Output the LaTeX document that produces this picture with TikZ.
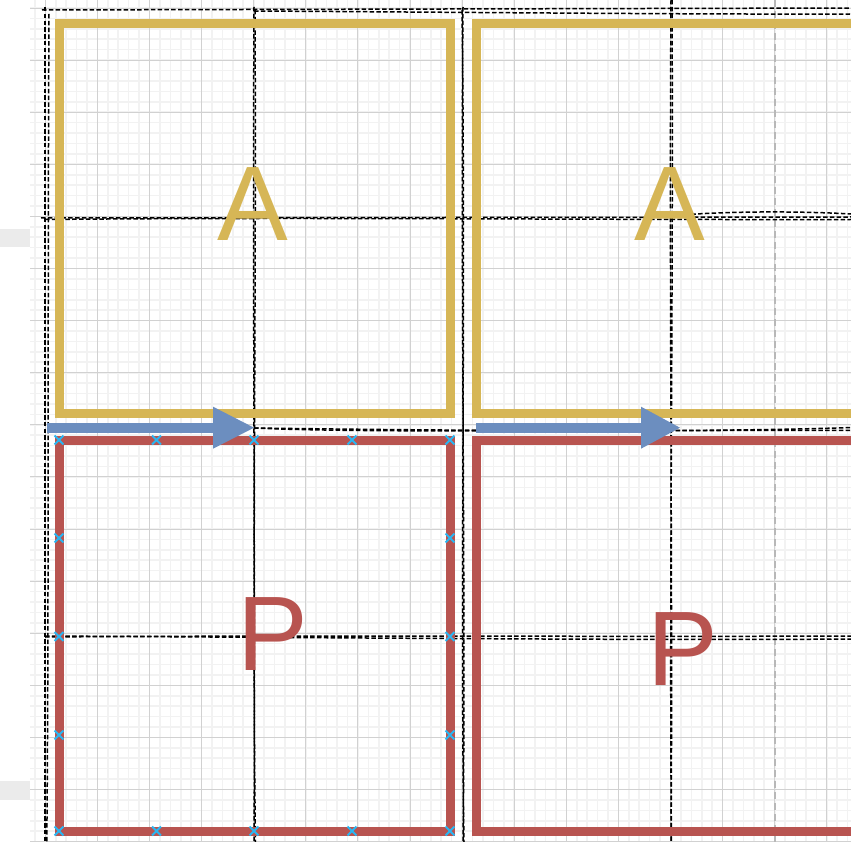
\documentclass[tikz,border=0pt]{standalone}
\usepackage{fontspec}
\setmainfont{Liberation Sans}
\usetikzlibrary{shapes.misc}
\definecolor{ayellow}{HTML}{D6B656}
\definecolor{pred}{HTML}{B85450}
\definecolor{ablue}{HTML}{6C8EBF}
\definecolor{xblue}{HTML}{29B6F2}
\begin{document}
\begin{tikzpicture}[x=1pt,y=-1pt,
  minorgrid/.style={line width=1.6pt, color=black!5},
  majorgrid/.style={line width=0.9pt, color=black!18},
  sk/.style={black, line width=1.5pt, dash pattern=on 4.5pt off 2.3pt},
  guide/.style={black!28, line width=1.3pt, dash pattern=on 7pt off 4pt},
  abox/.style={rectangle, draw=ayellow, line width=9pt, line join=miter, minimum width=391pt, minimum height=389pt, inner sep=0pt},
  pbox/.style={rectangle, draw=pred, line width=9pt, line join=miter, minimum width=391pt, minimum height=391pt, inner sep=0pt},
  atext/.style={font=\fontsize{106}{106}\selectfont, text=ayellow, inner sep=0pt, anchor=base},
  ptext/.style={font=\fontsize{106}{106}\selectfont, text=pred, inner sep=0pt, anchor=base},
  shaft/.style={draw=ablue, line width=10pt, line cap=butt},
  headfill/.style={fill=ablue},
  xmark/.style={cross out, draw=xblue, line width=1.8pt, minimum size=7pt, inner sep=0pt}
]
\path[use as bounding box] (0,0) rectangle (851,842);
\fill[white] (0,0) rectangle (851,842);
% side bars
\fill[black!8] (0,229) rectangle (30,247);
\fill[black!8] (0,781) rectangle (30,800);
% grid
\begin{scope}
\clip (30,0) rectangle (851,842);
\foreach \i in {-1,...,78} \draw[minorgrid] ({45.3+\i*10.42},0) -- ({45.3+\i*10.42},842);
\foreach \i in {-1,...,81} \draw[minorgrid] (30,{8+\i*10.42}) -- (851,{8+\i*10.42});
\foreach \i in {0,...,16} \draw[majorgrid] ({45.3+\i*52.1},0) -- ({45.3+\i*52.1},842);
\foreach \i in {0,...,16} \draw[majorgrid] (30,{8+\i*52.1}) -- (851,{8+\i*52.1});
\end{scope}
% light guide
\draw[guide] (775,0) -- (775,842);
% sketchy dashed guides
\draw[sk] (42,10) -- (851,8);
\draw[sk] (254,11) .. controls (500,12.5) and (700,14.5) .. (851,14);
\draw[sk] (45,7) -- (45,842);
\draw[sk] (49,14) .. controls (47.5,300) and (49,600) .. (46.8,842);
\draw[sk] (254,7) .. controls (252.5,300) and (255.5,600) .. (254,842);
\draw[sk] (255,10) .. controls (256.5,300) and (252,600) .. (255.5,842);
\draw[sk] (463,7) .. controls (460.5,300) and (466,600) .. (463,842);
\draw[sk] (462,10) .. controls (466,300) and (460,600) .. (464,842);
\draw[sk] (671,0) .. controls (669,300) and (673,600) .. (671,842);
\draw[sk] (672,0) .. controls (673.5,300) and (669,600) .. (671.5,842);
\draw[sk] (41,218) -- (851,217);
\draw[sk] (45,219.5) .. controls (300,217) and (600,220) .. (851,219.5);
\draw[sk] (671,216) .. controls (720,211) and (800,211) .. (851,214);
\draw[sk] (254,428) .. controls (360,433) and (600,430) .. (851,430.5);
\draw[sk] (254,428) .. controls (400,430) and (700,433) .. (851,427.5);
\draw[sk] (45,637) .. controls (300,635) and (600,637) .. (851,636);
\draw[sk] (45,636) .. controls (400,638) and (650,640.5) .. (851,639);
% boxes
\node[abox] (A1) at (254.5,218.5) {};
\node[abox] (A2) at (671.5,218.5) {};
\node[pbox] (P1) at (254.5,635.5) {};
\node[pbox] (P2) at (671.5,635.5) {};
% labels
\node[atext] (la1) at (253,240.7) {A};
\node[atext] (la2) at (670,240.7) {A};
\node[ptext] (lp1) at (272.8,670.7) {P};
\node[ptext] (lp2) at (682.4,685) {P};
% arrows
\coordinate (s1) at (47,427.7);
\coordinate (b1) at (213,427.7);
\coordinate (t1) at (254,427.7);
\coordinate (s2) at (476,427.7);
\coordinate (b2) at (641,427.7);
\coordinate (t2) at (680,427.7);
\draw[shaft] (s1) -- ([xshift=2pt]b1);
\fill[headfill] (t1) -- ([yshift=-21pt]b1) -- ([yshift=21pt]b1) -- cycle;
\draw[shaft] (s2) -- ([xshift=2pt]b2);
\fill[headfill] (t2) -- ([yshift=-21pt]b2) -- ([yshift=21pt]b2) -- cycle;
% connection markers
\foreach \x [count=\i] in {59,156.5,254,352,450} {
  \node[xmark] (xt\i) at (\x,440) {};
  \node[xmark] (xb\i) at (\x,831) {};
}
\foreach \y [count=\i] in {538,636.5,735} {
  \node[xmark] (xl\i) at (59,\y) {};
  \node[xmark] (xr\i) at (450,\y) {};
}
\end{tikzpicture}
\end{document}
